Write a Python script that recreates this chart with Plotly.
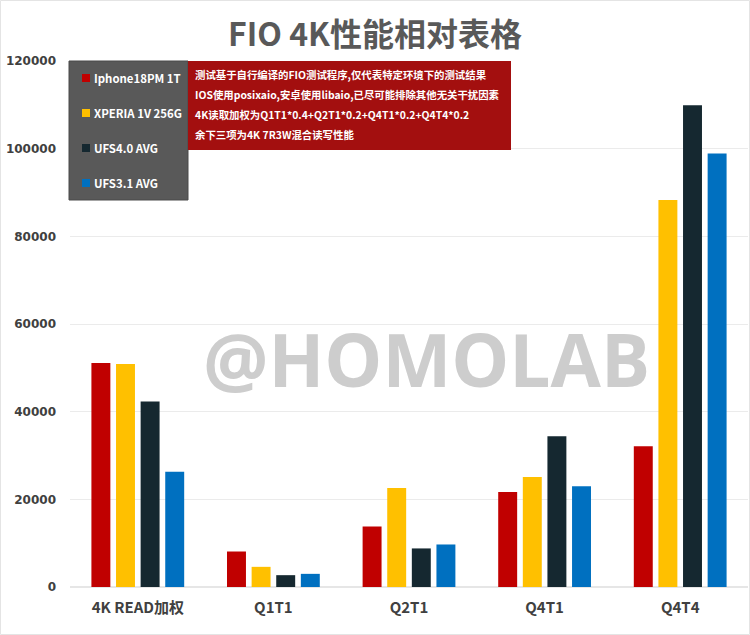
import plotly.graph_objects as go

categories = ["4K READ加权", "Q1T1", "Q2T1", "Q4T1", "Q4T4"]
series_names = ["Iphone18PM 1T", "XPERIA 1V 256G", "UFS4.0 AVG", "UFS3.1 AVG"]
iphone = [51100, 8100, 13800, 21700, 32100]
xperia = [50900, 4600, 22600, 25100, 88300]
ufs40 = [42300, 2700, 8800, 34400, 109900]
ufs31 = [26300, 3000, 9700, 23000, 98900]
series_values = [iphone, xperia, ufs40, ufs31]
colors = ["#C00000", "#FFC000", "#152830", "#0070C0"]
y_ticks = [0, 20000, 40000, 60000, 80000, 100000, 120000]
title_text = "FIO 4K性能相对表格"
note_lines = [
    "测试基于自行编译的FIO测试程序,仅代表特定环境下的测试结果",
    "IOS使用posixaio,安卓使用libaio,已尽可能排除其他无关干扰因素",
    "4K读取加权为Q1T1*0.4+Q2T1*0.2+Q4T1*0.2+Q4T4*0.2",
    "余下三项为4K 7R3W混合读写性能",
]
watermark = "@HOMOLAB"

W, H = 750, 635
L, R, T, B = 70, 2, 61, 48
pw, ph = W - L - R, H - T - B


def px(x):
    return (x - L) / pw


def py(y):
    return (H - B - y) / ph


CJK = "Noto Sans CJK SC"

fig = go.Figure()
for name, vals, col in zip(series_names, series_values, colors):
    fig.add_trace(go.Bar(name=name, x=categories, y=vals,
                         marker=dict(color=col, line=dict(width=0))))

shapes = []
annotations = []
# outer frame
shapes.append(dict(type="rect", xref="paper", yref="paper",
                   x0=px(0.5), x1=px(W - 0.5), y0=py(H - 0.5), y1=py(0.5),
                   line=dict(color="#E4E4E4", width=1), fillcolor="rgba(0,0,0,0)",
                   layer="below"))
# legend box
shapes.append(dict(type="rect", xref="paper", yref="paper",
                   x0=px(69), x1=px(188), y0=py(200), y1=py(61),
                   fillcolor="#595959", line=dict(color="#4A4A4A", width=1),
                   layer="above"))
# note box
shapes.append(dict(type="rect", xref="paper", yref="paper",
                   x0=px(188), x1=px(511), y0=py(150), y1=py(61),
                   fillcolor="#A30F0F", line=dict(width=0), layer="above"))

leg_y = [78, 113, 148, 183]
for name, col, yy in zip(series_names, colors, leg_y):
    shapes.append(dict(type="rect", xref="paper", yref="paper",
                       x0=px(82), x1=px(90), y0=py(yy + 4), y1=py(yy - 4),
                       fillcolor=col, line=dict(width=0), layer="above"))
    annotations.append(dict(text=name, xref="paper", yref="paper",
                            x=px(92), y=py(yy), xanchor="left", yanchor="middle",
                            showarrow=False,
                            font=dict(family=CJK, size=11.4, color="white", weight="bold")))

for i, line in enumerate(note_lines):
    annotations.append(dict(text=line, xref="paper", yref="paper",
                            x=px(193), y=py(74 + 20 * i), xanchor="left", yanchor="middle",
                            showarrow=False,
                            font=dict(family=CJK, size=10.4, color="white", weight="bold")))

annotations.append(dict(text=watermark, xref="paper", yref="paper",
                        x=px(426), y=py(358), xanchor="center", yanchor="middle",
                        showarrow=False,
                        font=dict(family="Open Sans", size=73, color="#CDCDCD",
                                  weight="bold")))

fig.update_layout(
    width=W, height=H,
    margin=dict(l=L, r=R, t=T, b=B),
    paper_bgcolor="white", plot_bgcolor="white",
    barmode="group", bargap=0.274, bargroupgap=0.23,
    showlegend=False,
    title=dict(text=title_text, x=0.5, xanchor="center", y=1 - 35 / H, yanchor="middle",
               font=dict(family=CJK, size=32, color="#595959", weight="bold")),
    shapes=shapes, annotations=annotations,
    xaxis=dict(tickfont=dict(family=CJK, size=15, color="#404040", weight="bold"),
               showline=False, ticks="", showgrid=False, ticklabelstandoff=10),
    yaxis=dict(range=[0, 120000], tickvals=y_ticks,
               ticktext=[str(v) for v in y_ticks],
               tickfont=dict(family="DejaVu Sans", size=12, color="#404040", weight="bold"),
               gridcolor="#EBEBEB", zeroline=True, zerolinecolor="#E6E6E6",
               showline=False, ticks="", ticklabelstandoff=13),
)

fig.write_html("out.html", config={"displayModeBar": False},
               post_script="document.body.style.margin='0';")
